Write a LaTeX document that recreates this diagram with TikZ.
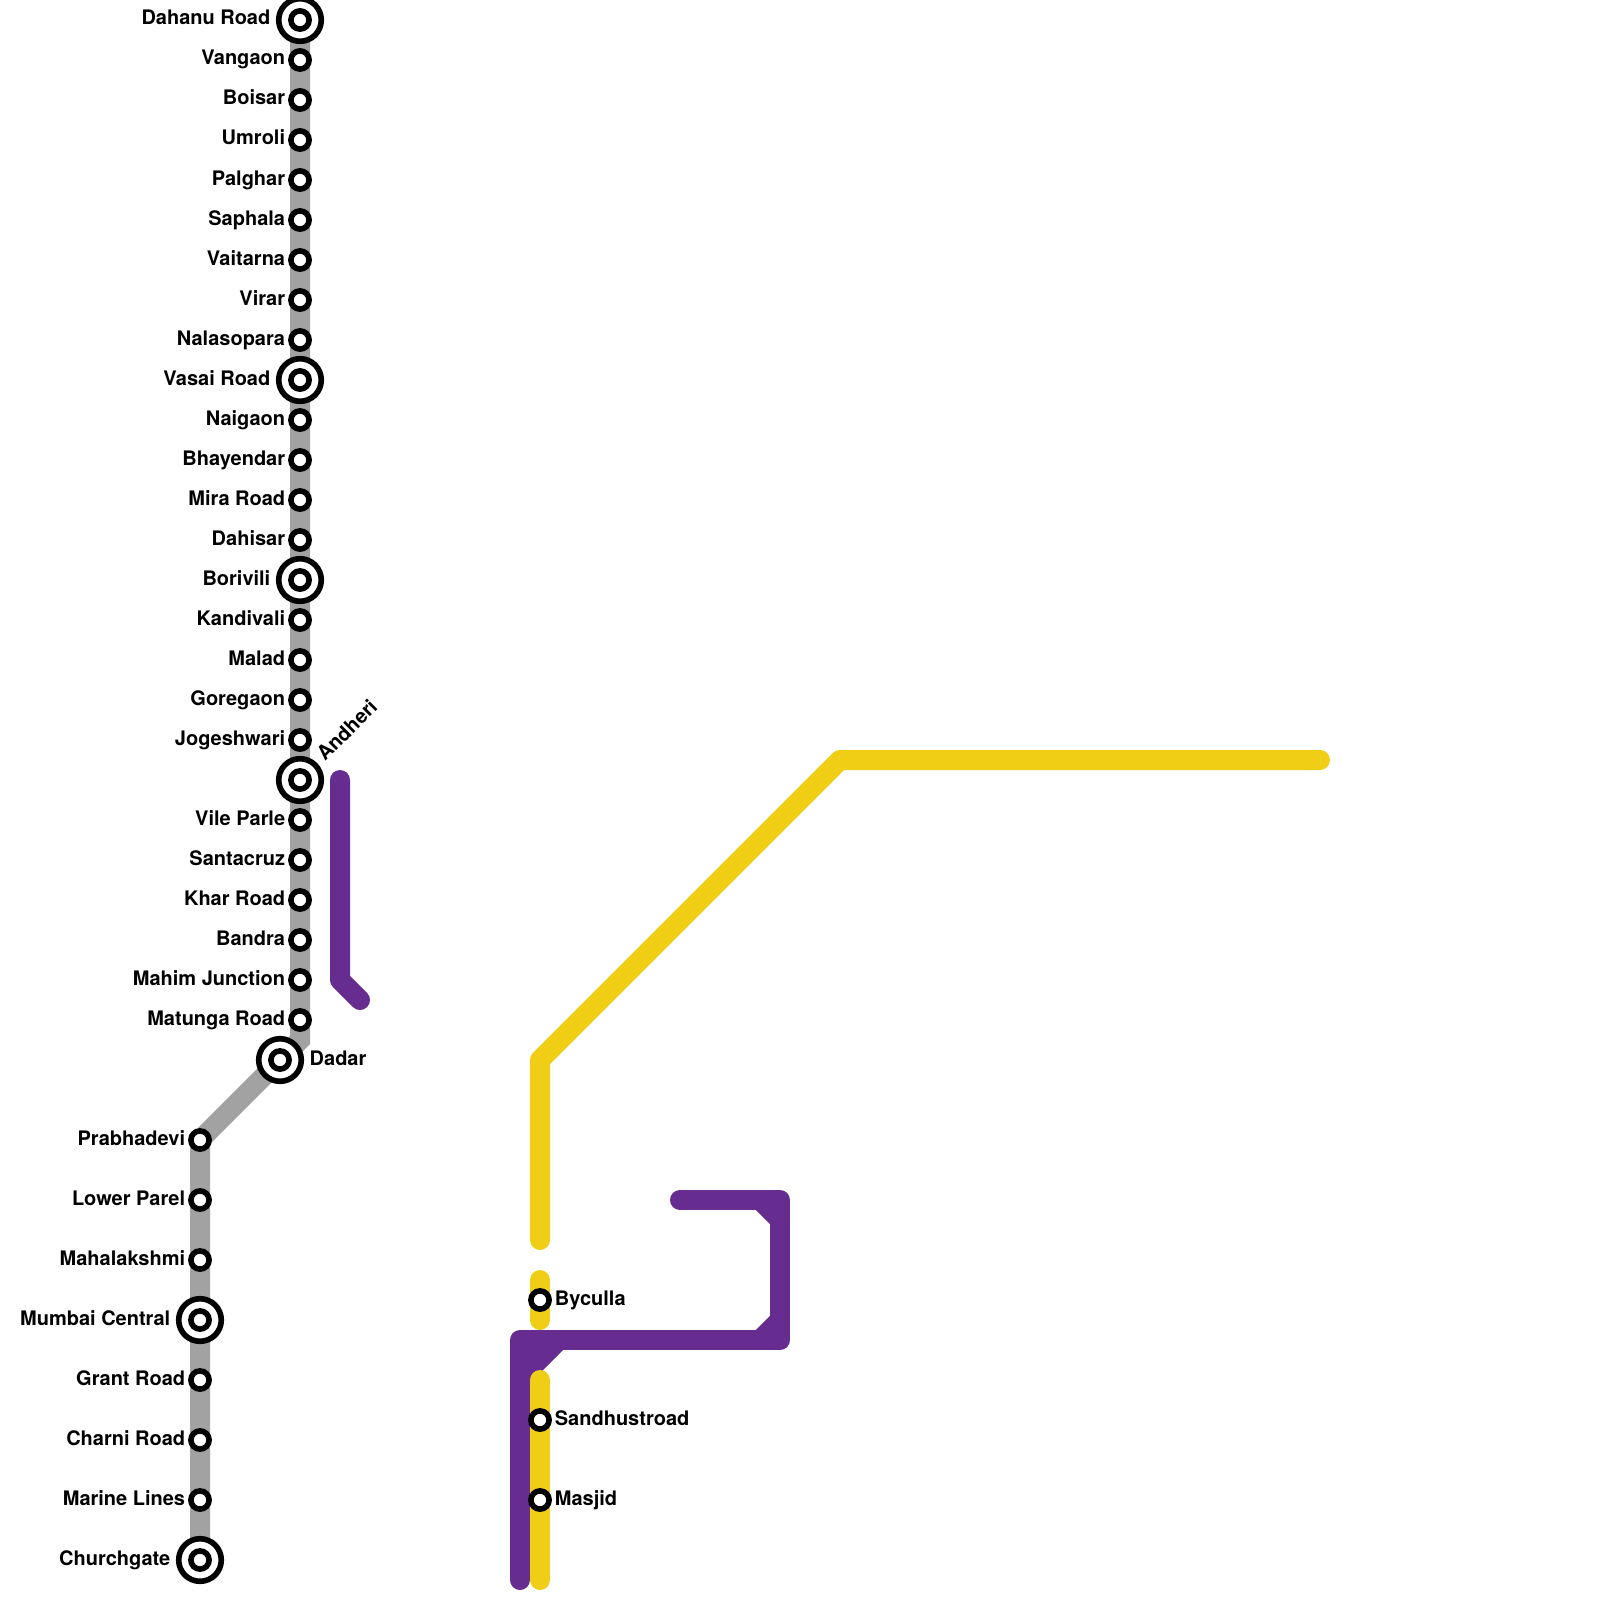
\documentclass[tikz,border=0pt]{standalone}
\usepackage{fontspec}
\setmainfont{TeX Gyre Heros}
\usetikzlibrary{backgrounds}
\definecolor{lineyellow}{HTML}{F0CE15}
\definecolor{linepurple}{HTML}{662C90}
\definecolor{linegrey}{HTML}{A2A2A2}
\tikzset{
  stop/.style={
    circle, draw=black, fill=white,
    line width=5.6pt, minimum size=18.2pt, inner sep=0pt,
  },
  hub/.style={
    circle, draw=black, fill=white,
    line width=5.6pt, minimum size=42.6pt, inner sep=0pt,
  },
  stopname/.style={
    font=\fontsize{20}{24}\selectfont\bfseries, text=black,
    inner sep=0pt, text height=14pt, text depth=4pt,
  },
  stopl/.style={stopname, label distance=2.8pt},
  hubl/.style={stopname, label distance=5.4pt},
  rail/.style={line width=20pt, line cap=round, line join=round},
  greyrail/.style={line width=20pt, line join=miter, linegrey},
}
\begin{document}
\begin{tikzpicture}[x=1pt, y=-1pt]
  \useasboundingbox (0,0) rectangle (1600,1600);

  % Western line, upper part
  \node[hub, label={[hubl]left:Dahanu Road}] (dahanu) at (300,20) {};
  \node[stop] (dahanuin) at (300,20) {};
  \node[stop, label={[stopl]left:Vangaon}] (vangaon) at (300,60) {};
  \node[stop, label={[stopl]left:Boisar}] (boisar) at (300,100) {};
  \node[stop, label={[stopl]left:Umroli}] (umroli) at (300,140) {};
  \node[stop, label={[stopl]left:Palghar}] (palghar) at (300,180) {};
  \node[stop, label={[stopl]left:Saphala}] (saphala) at (300,220) {};
  \node[stop, label={[stopl]left:Vaitarna}] (vaitarna) at (300,260) {};
  \node[stop, label={[stopl]left:Virar}] (virar) at (300,300) {};
  \node[stop, label={[stopl]left:Nalasopara}] (nalasopara) at (300,340) {};
  \node[hub, label={[hubl]left:Vasai Road}] (vasai) at (300,380) {};
  \node[stop] (vasaiin) at (300,380) {};
  \node[stop, label={[stopl]left:Naigaon}] (naigaon) at (300,420) {};
  \node[stop, label={[stopl]left:Bhayendar}] (bhayendar) at (300,460) {};
  \node[stop, label={[stopl]left:Mira Road}] (mira) at (300,500) {};
  \node[stop, label={[stopl]left:Dahisar}] (dahisar) at (300,540) {};
  \node[hub, label={[hubl]left:Borivili}] (borivili) at (300,580) {};
  \node[stop] (boriviliin) at (300,580) {};
  \node[stop, label={[stopl]left:Kandivali}] (kandivali) at (300,620) {};
  \node[stop, label={[stopl]left:Malad}] (malad) at (300,660) {};
  \node[stop, label={[stopl]left:Goregaon}] (goregaon) at (300,700) {};
  \node[stop, label={[stopl]left:Jogeshwari}] (jogeshwari) at (300,740) {};
  \node[hub] (andheri) at (300,780) {};
  \node[stop] (andheriin) at (300,780) {};
  \node[stopname, rotate=45, anchor=west] (andherilabel) at (321.5,758.5) {Andheri};
  \node[stop, label={[stopl]left:Vile Parle}] (vile) at (300,820) {};
  \node[stop, label={[stopl]left:Santacruz}] (santacruz) at (300,860) {};
  \node[stop, label={[stopl]left:Khar Road}] (khar) at (300,900) {};
  \node[stop, label={[stopl]left:Bandra}] (bandra) at (300,940) {};
  \node[stop, label={[stopl]left:Mahim Junction}] (mahim) at (300,980) {};
  \node[stop, label={[stopl]left:Matunga Road}] (matunga) at (300,1020) {};
  \node[hub, label={[hubl]right:Dadar}] (dadar) at (280,1060) {};
  \node[stop] (dadarin) at (280,1060) {};

  % Western line, lower part
  \node[stop, label={[stopl]left:Prabhadevi}] (prabhadevi) at (200,1140) {};
  \node[stop, label={[stopl]left:Lower Parel}] (lower) at (200,1200) {};
  \node[stop, label={[stopl]left:Mahalakshmi}] (mahalakshmi) at (200,1260) {};
  \node[hub, label={[hubl]left:Mumbai Central}] (central) at (200,1320) {};
  \node[stop] (centralin) at (200,1320) {};
  \node[stop, label={[stopl]left:Grant Road}] (grant) at (200,1380) {};
  \node[stop, label={[stopl]left:Charni Road}] (charni) at (200,1440) {};
  \node[stop, label={[stopl]left:Marine Lines}] (marine) at (200,1500) {};
  \node[hub, label={[hubl]left:Churchgate}] (churchgate) at (200,1560) {};
  \node[stop] (churchgatein) at (200,1560) {};

  % Central line stops
  \node[stop, label={[stopl]right:Byculla}] (byculla) at (540,1300) {};
  \node[stop, label={[stopl]right:Sandhustroad}] (sandhurst) at (540,1420) {};
  \node[stop, label={[stopl]right:Masjid}] (masjid) at (540,1500) {};

  % Free ends and bends
  \coordinate (greybend) at (300,1040);
  \coordinate (pa) at (340,780);
  \coordinate (pb) at (340,980);
  \coordinate (pc) at (360,1000);
  \coordinate (qa) at (680,1200);
  \coordinate (qb) at (780,1200);
  \coordinate (qbb) at (760,1200);
  \coordinate (qc) at (780,1220);
  \coordinate (qd) at (780,1340);
  \coordinate (qdd) at (780,1320);
  \coordinate (qe) at (760,1340);
  \coordinate (qf) at (520,1340);
  \coordinate (qg) at (563,1350);
  \coordinate (qh) at (520,1393);
  \coordinate (qi) at (520,1580);
  \coordinate (ya) at (1320,760);
  \coordinate (yb) at (840,760);
  \coordinate (yc) at (540,1060);
  \coordinate (yd) at (540,1240);
  \coordinate (ye) at (540,1280);
  \coordinate (yf) at (540,1320);
  \coordinate (yg) at (540,1380);
  \coordinate (yh) at (540,1580);

  \begin{scope}[on background layer]
    % Grey line
    \draw[greyrail] (dahanu.center) -- (greybend) -- (dadar.center)
      -- (prabhadevi.center) -- (churchgate.center);

    % Purple lines
    \draw[rail, linepurple] (pa) -- (pb) -- (pc);
    \draw[rail, linepurple] (qa) -- (qb) -- (qd) -- (qf) -- (qi);
    \draw[line width=20pt, linepurple] (qbb) -- (qc);
    \draw[line width=20pt, linepurple] (qdd) -- (qe);
    \fill[linepurple] (qf) -- (qg) -- (qh) -- cycle;

    % Yellow line
    \draw[rail, lineyellow] (ya) -- (yb) -- (yc) -- (yd);
    \draw[rail, lineyellow] (ye) -- (yf);
    \draw[rail, lineyellow] (yg) -- (yh);
  \end{scope}
\end{tikzpicture}
\end{document}
